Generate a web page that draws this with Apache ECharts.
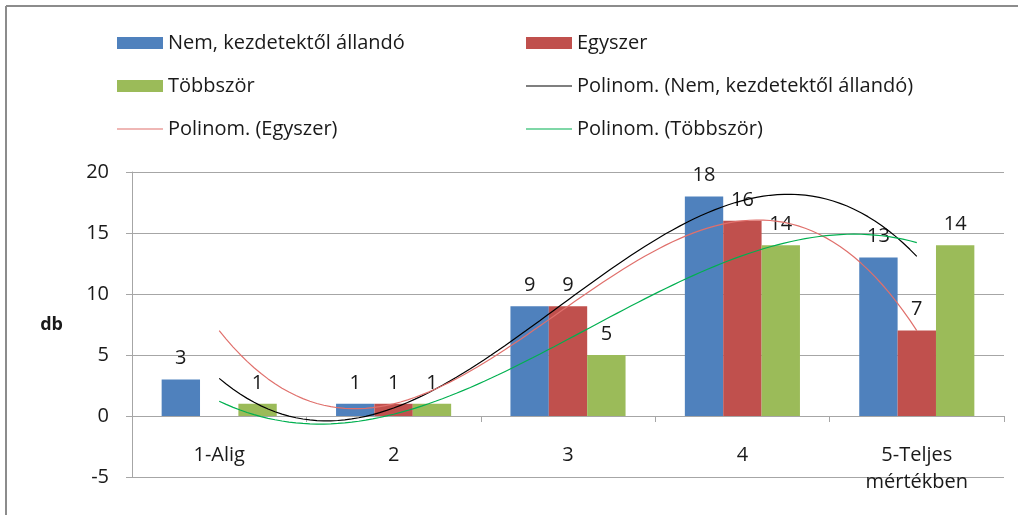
<!DOCTYPE html>
<html>
<head>
<meta charset="utf-8">
<script src="https://cdn.jsdelivr.net/npm/echarts@6/dist/echarts.min.js"></script>
<style>
  html, body { margin: 0; padding: 0; background: #fff; }
  #chart { width: 1018px; height: 515px; }
</style>
</head>
<body>
<div id="chart"></div>
<script>
// Données
const categories = ['1-Alig', '2', '3', '4', '5-Teljes\nmértékben'];
const nemValues = [3, 1, 9, 18, 13];
const egyszerValues = [null, 1, 9, 16, 7];
const tobbszorValues = [1, 1, 5, 14, 14];
const yTicks = [-5, 0, 5, 10, 15, 20];

const FONT = 'Open Sans';
const TXT = '#1a1a1a';
const GRID = '#a6a6a6';
const LINE_ICON = 'path://M0,0H46V1H0Z';
const C_NEM = '#4f81bd', C_EGY = '#c0504d', C_TOB = '#9bbb59';
const T_NEM = '#000000', T_EGY = '#e0706c', T_TOB = '#00b050';

// Ajustement polynomial (degré 3) par moindres carrés, comme la courbe de tendance Excel
function polyFit(values, degree) {
  const pts = values.map((v, i) => [i + 1, v]).filter((p) => p[1] != null);
  const n = degree + 1;
  const A = [];
  for (let i = 0; i < n; i++) {
    const row = [];
    for (let j = 0; j < n; j++) {
      row.push(pts.reduce((s, p) => s + Math.pow(p[0], i + j), 0));
    }
    row.push(pts.reduce((s, p) => s + p[1] * Math.pow(p[0], i), 0));
    A.push(row);
  }
  // élimination de Gauss
  for (let c = 0; c < n; c++) {
    let piv = c;
    for (let r = c + 1; r < n; r++) if (Math.abs(A[r][c]) > Math.abs(A[piv][c])) piv = r;
    [A[c], A[piv]] = [A[piv], A[c]];
    for (let r = 0; r < n; r++) {
      if (r === c) continue;
      const f = A[r][c] / A[c][c];
      for (let k = c; k <= n; k++) A[r][k] -= f * A[c][k];
    }
  }
  return A.map((row, i) => row[n] / row[i]);
}

function trendLine(values) {
  const coef = polyFit(values, 3);
  const out = [];
  for (let x = 1; x <= 5.0001; x += 0.04) {
    let y = 0;
    coef.forEach((c, i) => { y += c * Math.pow(x, i); });
    out.push([x, y]);
  }
  return out;
}

const chart = echarts.init(document.getElementById('chart'));

const barLabel = {
  show: true,
  position: 'top',
  distance: 11,
  color: TXT,
  fontFamily: FONT,
  fontSize: 20
};

const trendStyle = (color) => ({
  type: 'line',
  xAxisIndex: 1,
  showSymbol: false,
  symbol: 'none',
  silent: true,
  z: 5,
  lineStyle: { color: color, width: 1.2 },
  itemStyle: { color: color }
});

const legendBase = {
  orient: 'vertical',
  top: 28,
  itemWidth: 46,
  itemHeight: 12,
  itemGap: 23,
  textStyle: { color: TXT, fontFamily: FONT, fontSize: 20 }
};

// hauteur du graphique (grid) : sert à placer l'axe des catégories sur la ligne 0
const GRID_TOP = 172;
const GRID_BOTTOM = 38;
const plotHeight = 515 - GRID_TOP - GRID_BOTTOM;
const zeroOffset = -plotHeight * (0 - yTicks[0]) / (yTicks[yTicks.length - 1] - yTicks[0]);

chart.setOption({
  animation: false,
  textStyle: { fontFamily: FONT },
  graphic: [
    { type: 'line', shape: { x1: 6, y1: 6, x2: 1018, y2: 6 }, style: { stroke: '#8c8c8c', lineWidth: 2 } },
    { type: 'line', shape: { x1: 6, y1: 6, x2: 6, y2: 515 }, style: { stroke: '#8c8c8c', lineWidth: 2 } }
  ],
  legend: [
    Object.assign({}, legendBase, {
      left: 112,
      data: [
        { name: 'Nem, kezdetektől állandó', icon: 'rect', itemStyle: { color: C_NEM } },
        { name: 'Többször', icon: 'rect', itemStyle: { color: C_TOB } },
        { name: 'Polinom. (Egyszer)', icon: LINE_ICON, itemStyle: { color: T_EGY } }
      ]
    }),
    Object.assign({}, legendBase, {
      left: 521,
      data: [
        { name: 'Egyszer', icon: 'rect', itemStyle: { color: C_EGY } },
        { name: 'Polinom. (Nem, kezdetektől állandó)', icon: LINE_ICON, itemStyle: { color: T_NEM } },
        { name: 'Polinom. (Többször)', icon: LINE_ICON, itemStyle: { color: T_TOB } }
      ]
    })
  ],
  grid: { left: 132, right: 14, top: GRID_TOP, bottom: GRID_BOTTOM, outerBoundsMode: 'none' },
  xAxis: [
    {
      type: 'category',
      data: categories,
      position: 'bottom',
      offset: zeroOffset,
      axisLine: { onZero: false, lineStyle: { color: GRID, width: 1 } },
      axisTick: { show: true, length: 6, lineStyle: { color: GRID } },
      axisLabel: {
        color: TXT,
        fontFamily: FONT,
        fontSize: 20,
        margin: 26,
        lineHeight: 27
      }
    },
    { type: 'value', min: 0.5, max: 5.5, show: false, position: 'top', axisLine: { onZero: false } }
  ],
  yAxis: {
    type: 'value',
    min: yTicks[0],
    max: yTicks[yTicks.length - 1],
    interval: 5,
    name: 'db',
    nameLocation: 'middle',
    nameRotate: 0,
    nameGap: 69,
    nameTextStyle: { color: TXT, fontFamily: FONT, fontSize: 18, fontWeight: 'bold' },
    axisLine: { show: true, onZero: false, lineStyle: { color: GRID, width: 1 } },
    axisTick: { show: true, length: 6, lineStyle: { color: GRID } },
    splitLine: { lineStyle: { color: GRID, width: 1 } },
    axisLabel: { color: TXT, fontFamily: FONT, fontSize: 20, margin: 23 }
  },
  series: [
    {
      name: 'Nem, kezdetektől állandó',
      type: 'bar',
      data: nemValues,
      barGap: '0%',
      barCategoryGap: '34%',
      itemStyle: { color: C_NEM },
      label: barLabel
    },
    {
      name: 'Egyszer',
      type: 'bar',
      data: egyszerValues,
      itemStyle: { color: C_EGY },
      label: barLabel
    },
    {
      name: 'Többször',
      type: 'bar',
      data: tobbszorValues,
      itemStyle: { color: C_TOB },
      label: barLabel
    },
    Object.assign({ name: 'Polinom. (Nem, kezdetektől állandó)', data: trendLine(nemValues) }, trendStyle(T_NEM)),
    Object.assign({ name: 'Polinom. (Egyszer)', data: trendLine(egyszerValues) }, trendStyle(T_EGY)),
    Object.assign({ name: 'Polinom. (Többször)', data: trendLine(tobbszorValues) }, trendStyle(T_TOB))
  ]
});
</script>
</body>
</html>
